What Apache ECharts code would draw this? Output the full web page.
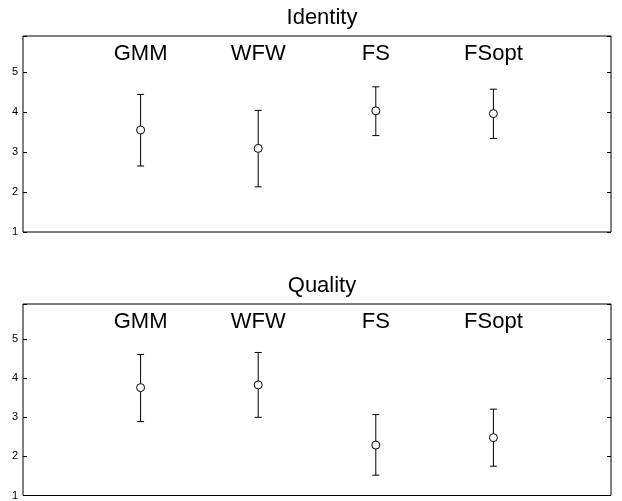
<!DOCTYPE html>
<html>
<head>
<meta charset="utf-8">
<script src="https://cdn.jsdelivr.net/npm/echarts@6/dist/echarts.min.js"></script>
<style>
  html, body { margin: 0; padding: 0; background: #fff; }
  #main { width: 622px; height: 501px; }
</style>
</head>
<body>
<div id="main"></div>
<script>
const categories = ['GMM', 'WFW', 'FS', 'FSopt']
const xPos = [1, 2, 3, 4]
const labelY = 5.45
const yTicks = [1, 2, 3, 4, 5]

const identityMean = [3.55, 3.09, 4.03, 3.96]
const identityLow = [2.65, 2.13, 3.41, 3.34]
const identityHigh = [4.44, 4.04, 4.63, 4.57]

const qualityMean = [3.76, 3.83, 2.29, 2.48]
const qualityLow = [2.89, 3.0, 1.52, 1.75]
const qualityHigh = [4.61, 4.66, 3.07, 3.21]

const font = "'Liberation Sans', Arial, sans-serif"

let myEcharts = echarts.init(document.getElementById('main'))

// one panel = a grid, two y axes (left labels, right ticks only), x axis hidden
function yAxisPair(gridIndex) {
  const base = {
    type: 'value',
    gridIndex: gridIndex,
    min: 1,
    max: 5.9,
    interval: 1,
    splitLine: { show: false },
    axisLine: { show: false },
    axisTick: { show: true, inside: true, length: 4, lineStyle: { color: '#000' } },
  }
  return [
    Object.assign({}, base, {
      position: 'left',
      axisLabel: {
        color: '#000', fontSize: 11, fontFamily: font, margin: 5,
        formatter: v => yTicks.includes(v) ? String(v) : ''
      }
    }),
    Object.assign({}, base, {
      position: 'right',
      axisLabel: { show: false }
    })
  ]
}

function errorBars(idx, low, high) {
  return {
    type: 'custom',
    xAxisIndex: idx,
    yAxisIndex: idx * 2,
    data: xPos.map((x, i) => [x, low[i], high[i]]),
    renderItem: (params, api) => {
      const lo = api.coord([api.value(0), api.value(1)])
      const hi = api.coord([api.value(0), api.value(2)])
      const w = 3.5
      const style = { stroke: '#000', lineWidth: 1 }
      return {
        type: 'group',
        children: [
          { type: 'line', shape: { x1: lo[0], y1: lo[1], x2: hi[0], y2: hi[1] }, style: style },
          { type: 'line', shape: { x1: lo[0] - w, y1: lo[1], x2: lo[0] + w, y2: lo[1] }, style: style },
          { type: 'line', shape: { x1: hi[0] - w, y1: hi[1], x2: hi[0] + w, y2: hi[1] }, style: style },
        ]
      }
    },
    z: 2
  }
}

function means(idx, vals) {
  return {
    type: 'scatter',
    xAxisIndex: idx,
    yAxisIndex: idx * 2,
    data: xPos.map((x, i) => [x, vals[i]]),
    symbol: 'circle',
    symbolSize: 8,
    itemStyle: { color: '#fff', borderColor: '#000', borderWidth: 1, opacity: 1 },
    z: 3
  }
}

function names(idx) {
  return {
    type: 'scatter',
    xAxisIndex: idx,
    yAxisIndex: idx * 2,
    data: xPos.map((x, i) => [x, labelY, categories[i]]),
    symbolSize: 0,
    itemStyle: { opacity: 1 },
    label: {
      show: true,
      position: 'inside',
      formatter: p => p.data[2],
      color: '#000',
      fontSize: 22,
      fontFamily: font
    },
    silent: true
  }
}

myEcharts.setOption({
  animation: false,
  backgroundColor: '#fff',
  title: [
    {
      text: 'Identity', left: 317, top: 2, textAlign: 'center',
      textStyle: { color: '#000', fontSize: 22, fontWeight: 'normal', fontFamily: font }
    },
    {
      text: 'Quality', left: 317, top: 270, textAlign: 'center',
      textStyle: { color: '#000', fontSize: 22, fontWeight: 'normal', fontFamily: font }
    }
  ],
  grid: [
    { left: 23, top: 36, width: 588, height: 196, show: true, borderColor: '#000', borderWidth: 1 },
    { left: 23, top: 304, width: 588, height: 196, show: true, borderColor: '#000', borderWidth: 1 }
  ],
  xAxis: [0, 1].map(g => ({
    type: 'value',
    gridIndex: g,
    min: 0,
    max: 5,
    show: false
  })),
  yAxis: yAxisPair(0).concat(yAxisPair(1)),
  series: [
    errorBars(0, identityLow, identityHigh),
    means(0, identityMean),
    names(0),
    errorBars(1, qualityLow, qualityHigh),
    means(1, qualityMean),
    names(1)
  ]
})
</script>
</body>
</html>
